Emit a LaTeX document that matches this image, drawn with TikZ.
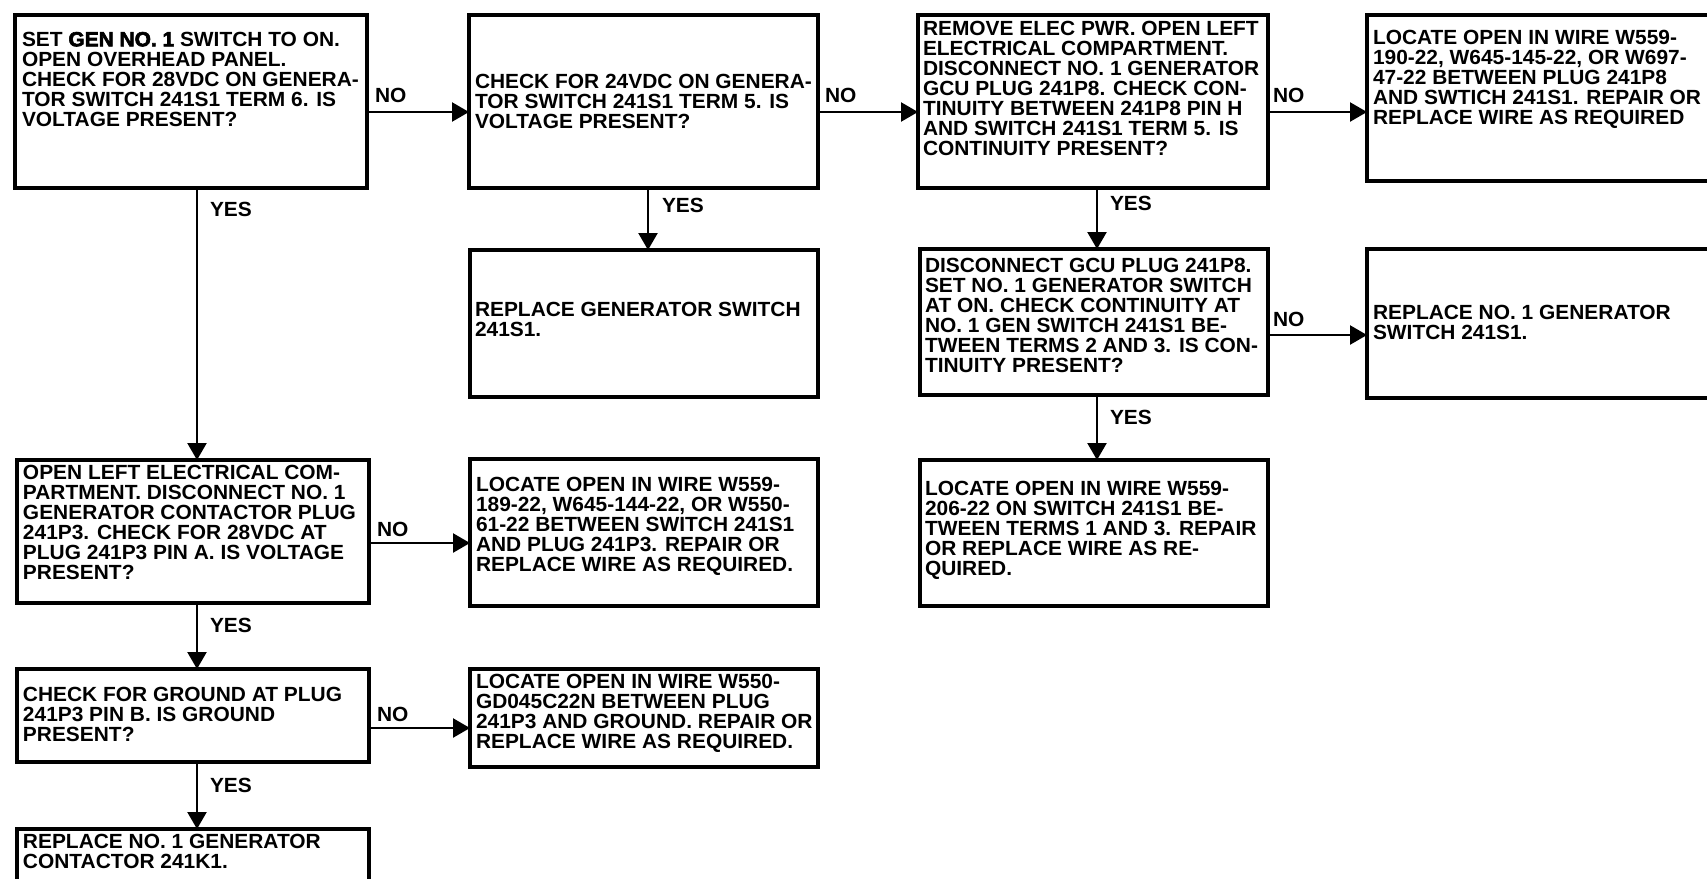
\documentclass[tikz,border=0pt]{standalone}
\usepackage{fontspec}
\usetikzlibrary{arrows.meta}
\newfontfamily\chartfont[FakeStretch=1.02]{Liberation Sans}
\newfontfamily\chartheavy[FakeStretch=1.02,FakeBold=3]{Liberation Sans}
\begin{document}
\begin{tikzpicture}[x=1pt,y=-1pt,
  box/.style={draw, line width=3.5pt, anchor=north west, inner sep=0pt, outer sep=0pt},
  txt/.style={anchor=north west, inner sep=0pt, outer sep=0pt, align=left,
    font=\chartfont\bfseries\fontsize{20.5}{20}\selectfont},
  lbl/.style={anchor=north west, inner sep=0pt, outer sep=0pt,
    font=\chartfont\bfseries\fontsize{20.5}{20}\selectfont},
  arr/.style={line width=2.4pt, -{Triangle[length=17pt,width=19pt]}}]
\useasboundingbox (0,0) rectangle (1707,878);
\clip (0,0) rectangle (1707,878);
\fill[white] (0,0) rectangle (1707,878);
% column / row guide coordinates
\coordinate (colA) at (197,0);
\coordinate (colB) at (648,0);
\coordinate (colC) at (1097,0);
\coordinate (rowA) at (0,112);
\coordinate (rowB) at (0,335);
\coordinate (rowC) at (0,543);
\coordinate (rowD) at (0,728);
% boxes
\node[box, minimum width=352pt, minimum height=173pt] (b1) at (15,15) {};
\node[box, minimum width=349pt, minimum height=173pt] (b2) at (469,15) {};
\node[box, minimum width=350pt, minimum height=173pt] (b3) at (918,15) {};
\node[box, minimum width=360pt, minimum height=166pt] (b4) at (1367,15) {};
\node[box, minimum width=348pt, minimum height=147pt] (b5) at (470,250) {};
\node[box, minimum width=348pt, minimum height=146pt] (b6) at (920,249) {};
\node[box, minimum width=348pt, minimum height=146pt] (b7) at (920,460) {};
\node[box, minimum width=360pt, minimum height=149pt] (b8) at (1367,249) {};
\node[box, minimum width=352pt, minimum height=143pt] (b9) at (17,460) {};
\node[box, minimum width=352pt, minimum height=93pt] (b10) at (17,669) {};
\node[box, minimum width=352pt, minimum height=80pt] (b11) at (17,829) {};
\node[box, minimum width=348pt, minimum height=147pt] (b12) at (470,459) {};
\node[box, minimum width=348pt, minimum height=98pt] (b13) at (470,669) {};
% texts
\node[txt] (t1) at (22,32) {SET {\chartheavy\bfseries GEN NO. 1} SWITCH TO ON.\\OPEN OVERHEAD PANEL.\\CHECK FOR 28VDC ON GENERA-\\TOR SWITCH 241S1 TERM 6. IS\\VOLTAGE PRESENT?};
\node[txt] (t2) at (475,74) {CHECK FOR 24VDC ON GENERA-\\TOR SWITCH 241S1 TERM 5. IS\\VOLTAGE PRESENT?};
\node[txt] (t3) at (923,21) {REMOVE ELEC PWR. OPEN LEFT\\ELECTRICAL COMPARTMENT.\\DISCONNECT NO. 1 GENERATOR\\GCU PLUG 241P8. CHECK CON-\\TINUITY BETWEEN 241P8 PIN H\\AND SWITCH 241S1 TERM 5. IS\\CONTINUITY PRESENT?};
\node[txt] (t4) at (1373,30) {LOCATE OPEN IN WIRE W559-\\190-22, W645-145-22, OR W697-\\47-22 BETWEEN PLUG 241P8\\AND SWTICH 241S1. REPAIR OR\\REPLACE WIRE AS REQUIRED};
\node[txt] (t5) at (475,302) {REPLACE GENERATOR SWITCH\\241S1.};
\node[txt] (t6) at (925,258) {DISCONNECT GCU PLUG 241P8.\\SET NO. 1 GENERATOR SWITCH\\AT ON. CHECK CONTINUITY AT\\NO. 1 GEN SWITCH 241S1 BE-\\TWEEN TERMS 2 AND 3. IS CON-\\TINUITY PRESENT?};
\node[txt] (t7) at (925,481) {LOCATE OPEN IN WIRE W559-\\206-22 ON SWITCH 241S1 BE-\\TWEEN TERMS 1 AND 3. REPAIR\\OR REPLACE WIRE AS RE-\\QUIRED.};
\node[txt] (t8) at (1373,305) {REPLACE NO. 1 GENERATOR\\SWITCH 241S1.};
\node[txt] (t9) at (23,465) {OPEN LEFT ELECTRICAL COM-\\PARTMENT. DISCONNECT NO. 1\\GENERATOR CONTACTOR PLUG\\241P3. CHECK FOR 28VDC AT\\PLUG 241P3 PIN A. IS VOLTAGE\\PRESENT?};
\node[txt] (t10) at (23,687) {CHECK FOR GROUND AT PLUG\\241P3 PIN B. IS GROUND\\PRESENT?};
\node[txt] (t11) at (23,834) {REPLACE NO. 1 GENERATOR\\CONTACTOR 241K1.};
\node[txt] (t12) at (476,477) {LOCATE OPEN IN WIRE W559-\\189-22, W645-144-22, OR W550-\\61-22 BETWEEN SWITCH 241S1\\AND PLUG 241P3. REPAIR OR\\REPLACE WIRE AS REQUIRED.};
\node[txt] (t13) at (476,674) {LOCATE OPEN IN WIRE W550-\\GD045C22N BETWEEN PLUG\\241P3 AND GROUND. REPAIR OR\\REPLACE WIRE AS REQUIRED.};
% connectors
\draw[arr] (b1.east |- rowA) -- (b2.west |- rowA);
\draw[arr] (b2.east |- rowA) -- (b3.west |- rowA);
\draw[arr] (b3.east |- rowA) -- (b4.west |- rowA);
\draw[arr] (b6.east |- rowB) -- (b8.west |- rowB);
\draw[arr] (b9.east |- rowC) -- (b12.west |- rowC);
\draw[arr] (b10.east |- rowD) -- (b13.west |- rowD);
\draw[arr] (b1.south -| colA) -- (b9.north -| colA);
\draw[arr] (b9.south -| colA) -- (b10.north -| colA);
\draw[arr] (b10.south -| colA) -- (b11.north -| colA);
\draw[arr] (b2.south -| colB) -- (b5.north -| colB);
\draw[arr] (b3.south -| colC) -- (b6.north -| colC);
\draw[arr] (b6.south -| colC) -- (b7.north -| colC);
% labels
\node[lbl] (n1) at (375,88) {NO};
\node[lbl] (n2) at (825,88) {NO};
\node[lbl] (n3) at (1273,88) {NO};
\node[lbl] (n4) at (1273,312) {NO};
\node[lbl] (n5) at (377,522) {NO};
\node[lbl] (n6) at (377,707) {NO};
\node[lbl] (y1) at (210,202) {YES};
\node[lbl] (y2) at (662,198) {YES};
\node[lbl] (y3) at (1110,196) {YES};
\node[lbl] (y4) at (1110,410) {YES};
\node[lbl] (y5) at (210,618) {YES};
\node[lbl] (y6) at (210,778) {YES};
\end{tikzpicture}
\end{document}
